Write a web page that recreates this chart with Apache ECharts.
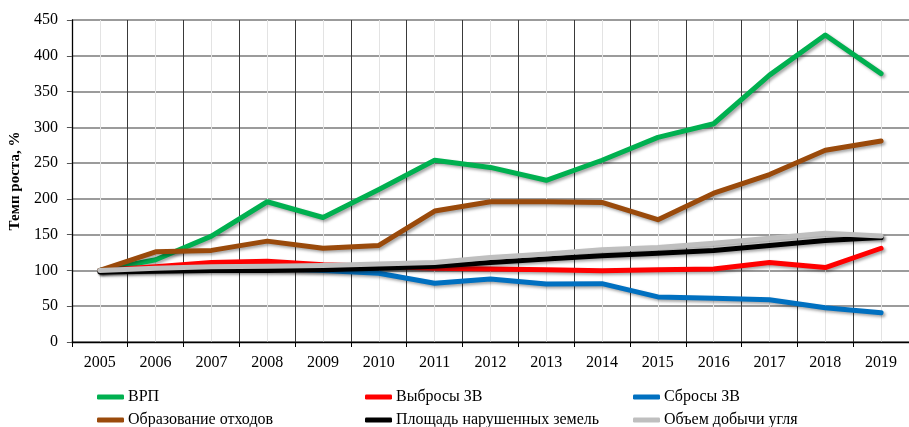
<!DOCTYPE html>
<html>
<head>
<meta charset="utf-8">
<script src="https://cdn.jsdelivr.net/npm/echarts@6/dist/echarts.min.js"></script>
<style>
  html, body { margin: 0; padding: 0; background: #fff; }
  #chart { width: 909px; height: 427px; }
</style>
</head>
<body>
<div id="chart"></div>
<script>
// годы
const years = ['2005', '2006', '2007', '2008', '2009', '2010', '2011', '2012',
  '2013', '2014', '2015', '2016', '2017', '2018', '2019'];

// темп роста, % (2005 = 100)
const vrp = [100, 115, 148, 196, 174, 213, 254, 244, 226, 254, 286, 305, 373, 429, 375];
const vybrosy = [100, 105, 111, 113, 108, 106, 103, 102, 101, 99.5, 101, 102, 111, 104, 131];
const sbrosy = [100, 102, 103, 103, 100, 96, 82, 88, 81, 81.5, 63, 61, 59, 48, 41];
const othody = [100, 126, 128, 141, 131, 135, 183, 196, 196, 195, 171, 208, 234, 268, 281];
const zemli = [98, 99, 100, 100, 101, 103, 106, 111, 116, 120.5, 124, 128, 135, 142, 146];
const ugol = [100, 103, 105, 106, 107, 109, 111, 118, 123, 129, 132, 138, 145, 152, 148];

const serif = 'Liberation Serif';

const chart = echarts.init(document.getElementById('chart'));

function line(name, data, color) {
  return {
    name: name,
    type: 'line',
    data: data,
    xAxisIndex: 0,
    symbol: 'none',
    lineStyle: {
      color: color, width: 5, cap: 'round', join: 'round',
      shadowColor: 'rgba(0,0,0,0.35)', shadowBlur: 3, shadowOffsetX: 2, shadowOffsetY: 2
    },
    itemStyle: { color: color }
  };
}

function legend(left, names) {
  return {
    orient: 'vertical',
    left: left,
    top: 389,
    height: 50,
    padding: 0,
    itemWidth: 27,
    itemHeight: 5,
    itemGap: 7,
    icon: 'roundRect',
    textStyle: { fontFamily: serif, fontSize: 16, color: '#000', padding: [0, 0, 0, -1] },
    data: names
  };
}

chart.setOption({
  animation: false,
  grid: { left: 71, top: 20, bottom: 85, width: 849 },
  legend: [
    legend(97, ['ВРП', 'Образование отходов']),
    legend(365, ['Выбросы ЗВ', 'Площадь нарушенных земель']),
    legend(633, ['Сбросы ЗВ', 'Объем добычи угля'])
  ],
  xAxis: [
    {
      type: 'category',
      data: years,
      boundaryGap: true,
      axisLine: { lineStyle: { color: '#000', width: 1.3 } },
      axisTick: { show: true, length: 5, lineStyle: { color: '#000' } },
      axisLabel: { fontFamily: serif, fontSize: 16, color: '#000', margin: 13 },
      splitLine: { show: true, lineStyle: { color: '#3a3a3a', width: 1 } }
    },
    {
      // светлые линии по центрам категорий
      type: 'value',
      position: 'top',
      min: 0,
      max: 15,
      interval: 1,
      axisLine: { show: false },
      axisTick: { show: false },
      axisLabel: { show: false },
      splitLine: { show: false },
      minorTick: { show: false, splitNumber: 2 },
      minorSplitLine: { show: true, lineStyle: { color: '#e3e3e3', width: 1 } }
    }
  ],
  yAxis: {
    type: 'value',
    min: 0,
    max: 450,
    interval: 50,
    name: 'Темп роста, %',
    nameLocation: 'middle',
    nameGap: 42,
    nameTextStyle: { fontFamily: serif, fontSize: 15, fontWeight: 'bold', color: '#000' },
    axisLine: { show: true, lineStyle: { color: '#000', width: 1.3 } },
    axisTick: { show: true, length: 5, lineStyle: { color: '#555' } },
    axisLabel: { fontFamily: serif, fontSize: 16, color: '#000', margin: 14 },
    splitLine: { show: true, lineStyle: { color: '#7a7a7a', width: 1.5 } }
  },
  series: [
    line('ВРП', vrp, '#00B050'),
    line('Выбросы ЗВ', vybrosy, '#FF0000'),
    line('Сбросы ЗВ', sbrosy, '#0070C0'),
    line('Образование отходов', othody, '#9A4A0B'),
    line('Площадь нарушенных земель', zemli, '#000000'),
    line('Объем добычи угля', ugol, '#BFBFBF')
  ]
});
</script>
</body>
</html>
